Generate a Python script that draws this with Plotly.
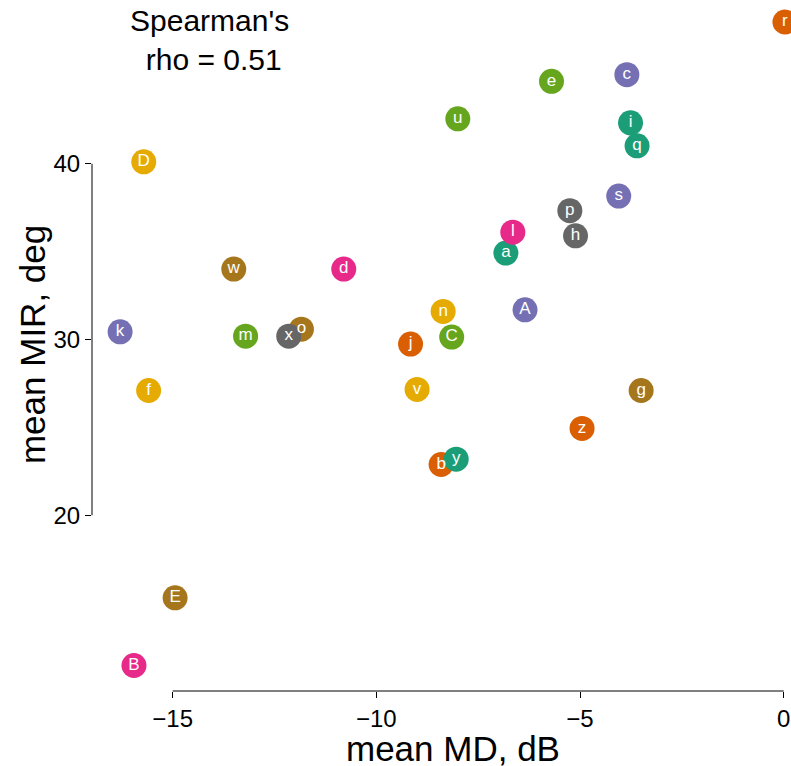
import plotly.graph_objects as go

# Per-subject labels and their means
labels = ["a", "b", "c", "d", "e", "f", "g", "h", "i", "j", "k", "l", "m", "n", "o",
          "p", "q", "r", "s", "u", "v", "w", "x", "y", "z", "A", "B", "C", "D", "E"]
mean_md = [-6.82, -8.41, -3.85, -10.80, -5.70, -15.59, -3.50, -5.11, -3.76, -9.16,
           -16.29, -6.65, -13.21, -8.36, -11.84, -5.25, -3.60, 0.03, -4.05, -8.00,
           -9.00, -13.50, -12.15, -8.04, -4.95, -6.35, -15.95, -8.15, -15.71, -14.94]
mean_mir = [34.92, 22.89, 45.07, 34.01, 44.69, 27.10, 27.10, 35.90, 42.33, 29.74,
            30.44, 36.11, 30.19, 31.60, 30.59, 37.33, 41.02, 48.07, 38.16, 42.56,
            27.16, 34.01, 30.19, 23.19, 24.94, 31.69, 11.45, 30.14, 40.11, 15.30]

x_ticks = [-15, -10, -5, 0]
y_ticks = [20, 30, 40]
rho_text = "Spearman's<br>\u00a0rho = 0.51"

# Dark2 palette, cycled over the full label alphabet
dark2 = ["#1B9E77", "#D95F02", "#7570B3", "#E7298A",
         "#66A61E", "#E6AB02", "#A6761D", "#666666"]
alphabet = "abcdefghijklmnopqrstuvwxyzABCDE"
colors = [dark2[alphabet.index(l) % 8] for l in labels]

FONT = "Liberation Sans, Arial, Helvetica, sans-serif"

fig = go.Figure()
fig.add_trace(go.Scatter(
    x=mean_md, y=mean_mir, text=labels,
    mode="markers+text",
    marker=dict(size=25, color=colors, line=dict(width=0)),
    textposition="middle center",
    textfont=dict(family=FONT, size=17, color="white"),
    hoverinfo="skip",
    showlegend=False,
))

axis_common = dict(showgrid=False, zeroline=False, showline=False,
                   ticks="outside", ticklen=6, tickwidth=1, tickcolor="black",
                   tickfont=dict(family=FONT, size=24, color="black"))

fig.update_xaxes(range=[-16.98, 0.179], tickvals=x_ticks, **axis_common)
fig.update_yaxes(range=[10, 49.32], tickvals=y_ticks, **axis_common)

# Range-frame axis lines spanning only the tick extents
fig.add_shape(type="line", xref="x", yref="paper",
              x0=x_ticks[0], x1=x_ticks[-1], y0=0, y1=0,
              line=dict(color="black", width=1))
fig.add_shape(type="line", xref="paper", yref="y",
              x0=0, x1=0, y0=y_ticks[0], y1=y_ticks[-1],
              line=dict(color="black", width=1))

fig.add_annotation(text=rho_text, xref="paper", yref="paper",
                   x=0.1674, y=0.9414, xanchor="center", yanchor="middle",
                   align="center", showarrow=False,
                   font=dict(family=FONT, size=30, color="black"))
fig.add_annotation(text="mean MD, dB", xref="paper", yref="paper",
                   x=0.5164, y=-0.0839, xanchor="center", yanchor="middle",
                   showarrow=False, font=dict(family=FONT, size=35, color="black"))
fig.add_annotation(text="mean MIR, deg", xref="paper", yref="paper",
                   x=-0.0858, y=0.5007, xanchor="center", yanchor="middle",
                   textangle=-90, showarrow=False,
                   font=dict(family=FONT, size=35, color="black"))

fig.update_layout(
    width=791, height=766,
    margin=dict(l=92, r=0, t=0, b=75, pad=0),
    paper_bgcolor="white", plot_bgcolor="white",
    font=dict(family=FONT),
)

fig.write_html("out.html")
